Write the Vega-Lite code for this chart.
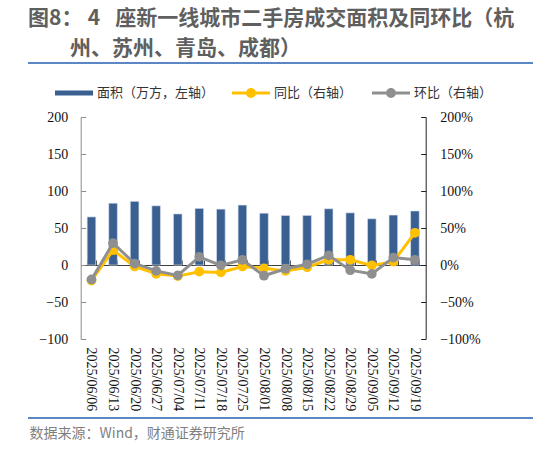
{
  "$schema": "https://vega.github.io/schema/vega-lite/v6.json",
  "width": 505,
  "height": 222,
  "autosize": "none",
  "padding": {"left": 28, "top": 117, "right": 0, "bottom": 110},
  "background": "white",
  "config": {"view": {"stroke": null}, "axis": {"labelOverlap": false}},
  "title": {
    "text": ["图8：\u20054\u2002 座新一线城市二手房成交面积及同环比（杭", "\u200b\u2003\u2003州、苏州、青岛、成都）"],
    "anchor": "start",
    "frame": "group",
    "font": "Noto Sans CJK SC",
    "fontSize": 21,
    "fontWeight": "bold",
    "color": "#5f5f5f",
    "lineHeight": 30,
    "offset": 3
  },
  "data": {
    "values": [
      {"date": "2025/06/06", "area": 65, "yoy": -0.21, "mom": -0.195},
      {"date": "2025/06/13", "area": 83.5, "yoy": 0.2, "mom": 0.295},
      {"date": "2025/06/20", "area": 86, "yoy": -0.02, "mom": 0.02},
      {"date": "2025/06/27", "area": 80, "yoy": -0.12, "mom": -0.08},
      {"date": "2025/07/04", "area": 69, "yoy": -0.15, "mom": -0.14},
      {"date": "2025/07/11", "area": 76.5, "yoy": -0.09, "mom": 0.11},
      {"date": "2025/07/18", "area": 75.5, "yoy": -0.1, "mom": -0.005},
      {"date": "2025/07/25", "area": 81, "yoy": -0.02, "mom": 0.07},
      {"date": "2025/08/01", "area": 70, "yoy": -0.045, "mom": -0.145},
      {"date": "2025/08/08", "area": 67, "yoy": -0.08, "mom": -0.05},
      {"date": "2025/08/15", "area": 67, "yoy": -0.03, "mom": 0.01},
      {"date": "2025/08/22", "area": 76, "yoy": 0.07, "mom": 0.13},
      {"date": "2025/08/29", "area": 70.5, "yoy": 0.07, "mom": -0.07},
      {"date": "2025/09/05", "area": 62.5, "yoy": -0.005, "mom": -0.12},
      {"date": "2025/09/12", "area": 67.5, "yoy": 0.045, "mom": 0.1},
      {"date": "2025/09/19", "area": 73, "yoy": 0.435, "mom": 0.07}
    ]
  },
  "layer": [
    {
      "layer": [
        {
          "mark": {"type": "bar", "stroke": "#dbe3ee", "strokeWidth": 0.6},
          "encoding": {
            "x": {
              "field": "date",
              "type": "nominal",
              "sort": null,
              "scale": {"range": [52.7, 397.7], "paddingInner": 0.6, "paddingOuter": 0.3},
              "axis": {
                "orient": "bottom",
                "domain": false,
                "ticks": false,
                "labelAngle": 90,
                "labelPadding": 8,
                "labelFont": "Liberation Serif",
                "labelFontSize": 14,
                "labelColor": "#111",
                "title": "数据来源：Wind，财通证券研究所",
                "titleFont": "Noto Sans CJK SC",
                "titleFontSize": 14,
                "titleFontWeight": "normal",
                "titleColor": "#7f7f7f",
                "titleX": 1,
                "titleY": 94,
                "titleAlign": "left",
                "titleBaseline": "middle"
              }
            },
            "y": {
              "field": "area",
              "type": "quantitative",
              "scale": {"domain": [-100, 200], "nice": false, "zero": false},
              "axis": {
                "orient": "left",
                "offset": -52.7,
                "values": [-100, -50, 0, 50, 100, 150, 200],
                "tickCount": 7,
                "grid": false,
                "title": null,
                "domainColor": "#8c8c8c",
                "tickColor": "#8c8c8c",
                "tickSize": -5,
                "labelPadding": 18,
                "labelFont": "Liberation Serif",
                "labelFontSize": 14,
                "labelColor": "#111"
              }
            },
            "fill": {
              "datum": "面积（万方，左轴）",
              "type": "nominal",
              "scale": {"domain": ["面积（万方，左轴）"], "range": ["#3A6092"]},
              "legend": {
                "orient": "none",
                "legendX": 27,
                "legendY": -43,
                "title": null,
                "padding": 0,
                "symbolSize": 1444,
                "symbolType": "M-1,-0.13H1V0.13H-1Z",
                "symbolStrokeWidth": 0,
                "labelOffset": 4,
                "labelFont": "Noto Sans CJK SC",
                "labelFontSize": 13,
                "labelColor": "#333"
              }
            }
          }
        },
        {
          "mark": {"type": "rule", "color": "#5B87C5", "strokeWidth": 1.5},
          "encoding": {"y": {"datum": 273, "type": "quantitative"}}
        },
        {
          "mark": {"type": "rule", "color": "#5B87C5", "strokeWidth": 1.5},
          "encoding": {"y": {"datum": -206.8, "type": "quantitative"}}
        }
      ]
    },
    {
      "layer": [
        {
          "mark": {"type": "line", "strokeWidth": 3, "point": {"filled": true, "size": 95}},
          "encoding": {
            "x": {
              "field": "date",
              "type": "nominal",
              "sort": null,
              "axis": {
                "orient": "bottom",
                "offset": -74,
                "labels": false,
                "domain": true,
                "domainColor": "#404040",
                "ticks": true,
                "tickBand": "extent",
                "tickSize": -5,
                "tickColor": "#404040",
                "title": null
              }
            },
            "y": {
              "field": "yoy",
              "type": "quantitative",
              "scale": {"domain": [-1, 2], "nice": false, "zero": false},
              "axis": {
                "orient": "right",
                "offset": -107.3,
                "values": [-1, -0.5, 0, 0.5, 1, 1.5, 2],
                "tickCount": 7,
                "format": ".0%",
                "grid": false,
                "title": null,
                "domainColor": "#222",
                "tickColor": "#222",
                "tickSize": -5,
                "labelPadding": 19,
                "labelFont": "Liberation Serif",
                "labelFontSize": 14,
                "labelColor": "#111"
              }
            },
            "color": {
              "datum": "同比（右轴）",
              "type": "nominal",
              "scale": {"domain": ["同比（右轴）", "环比（右轴）"], "range": ["#FFC000", "#8F8F8F"]},
              "legend": {
                "orient": "none",
                "direction": "horizontal",
                "legendX": 204,
                "legendY": -43,
                "title": null,
                "padding": 0,
                "symbolSize": 1444,
                "symbolType": "M-1,-0.08H1V0.08H-1Z M0.26,0A0.26,0.26,0,1,1,-0.26,0A0.26,0.26,0,1,1,0.26,0Z",
                "symbolStrokeWidth": 0,
                "labelOffset": 4,
                "columnPadding": 19,
                "labelFont": "Noto Sans CJK SC",
                "labelFontSize": 13,
                "labelColor": "#333"
              }
            }
          }
        },
        {
          "mark": {"type": "line", "strokeWidth": 3, "point": {"filled": true, "size": 95}},
          "encoding": {
            "x": {"field": "date", "type": "nominal", "sort": null},
            "y": {"field": "mom", "type": "quantitative"},
            "color": {"datum": "环比（右轴）", "type": "nominal"}
          }
        }
      ]
    }
  ],
  "resolve": {"scale": {"y": "independent"}, "axis": {"x": "independent", "y": "independent"}}
}
